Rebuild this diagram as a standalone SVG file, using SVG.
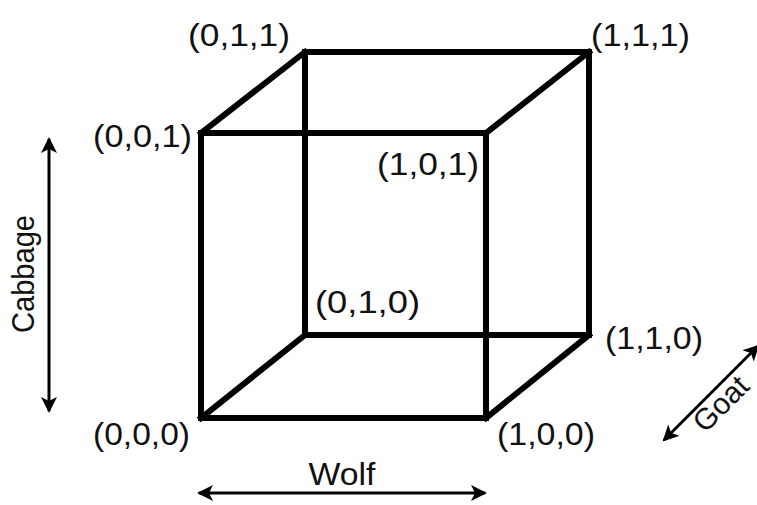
<svg xmlns="http://www.w3.org/2000/svg" width="757" height="505" viewBox="0 0 757 505">
<style>
.lbl{font-family:"Liberation Sans",Arial,sans-serif;font-size:31px;fill:#111;}
.edge{stroke:#000;stroke-width:6;fill:none;stroke-linecap:square;stroke-linejoin:miter;}
.axis{stroke:#000;stroke-width:3;fill:none;}
</style>
<defs>
<marker id="ah" viewBox="0 0 16 16" refX="14" refY="8" markerWidth="16" markerHeight="16" markerUnits="userSpaceOnUse" orient="auto-start-reverse">
<path d="M0,0 L16,8 L0,16 L4,8 Z" fill="#000"/>
</marker>
</defs>
<rect width="757" height="505" fill="#fff"/>
<g id="connectors">
<path class="edge" d="M201,133 H486 V418 H201 Z"/>
<path class="edge" d="M305,52 H589 V335 H305 Z"/>
<path class="edge" d="M201,133 L305,52 M486,133 L589,52 M201,418 L305,335 M486,418 L589,335"/>
<line class="axis" x1="49" y1="139" x2="49" y2="411" marker-start="url(#ah)" marker-end="url(#ah)"/>
<line class="axis" x1="199" y1="493" x2="485" y2="493" marker-start="url(#ah)" marker-end="url(#ah)"/>
<line class="axis" x1="664" y1="440" x2="758" y2="346" marker-start="url(#ah)" marker-end="url(#ah)"/>
</g>
<g id="n000"><text class="lbl" x="93" y="445" textLength="97" lengthAdjust="spacingAndGlyphs">(0,0,0)</text></g>
<g id="n100"><text class="lbl" x="497" y="445" textLength="98" lengthAdjust="spacingAndGlyphs">(1,0,0)</text></g>
<g id="n001"><text class="lbl" x="93" y="147" textLength="99" lengthAdjust="spacingAndGlyphs">(0,0,1)</text></g>
<g id="n101"><text class="lbl" x="377" y="175" textLength="102" lengthAdjust="spacingAndGlyphs">(1,0,1)</text></g>
<g id="n010"><text class="lbl" x="315" y="313" textLength="105" lengthAdjust="spacingAndGlyphs">(0,1,0)</text></g>
<g id="n110"><text class="lbl" x="605" y="349" textLength="98" lengthAdjust="spacingAndGlyphs">(1,1,0)</text></g>
<g id="n011"><text class="lbl" x="188" y="46" textLength="102" lengthAdjust="spacingAndGlyphs">(0,1,1)</text></g>
<g id="n111"><text class="lbl" x="591" y="46" textLength="99" lengthAdjust="spacingAndGlyphs">(1,1,1)</text></g>
<g id="axisCabbage"><text class="lbl" transform="translate(34,274) rotate(-90)" text-anchor="middle" textLength="118" lengthAdjust="spacingAndGlyphs">Cabbage</text></g>
<g id="axisWolf"><text class="lbl" x="342" y="485" text-anchor="middle" textLength="67" lengthAdjust="spacingAndGlyphs">Wolf</text></g>
<g id="axisGoat"><text class="lbl" transform="translate(705,434) rotate(-45)" style="font-size:30px">Goat</text></g>
</svg>
